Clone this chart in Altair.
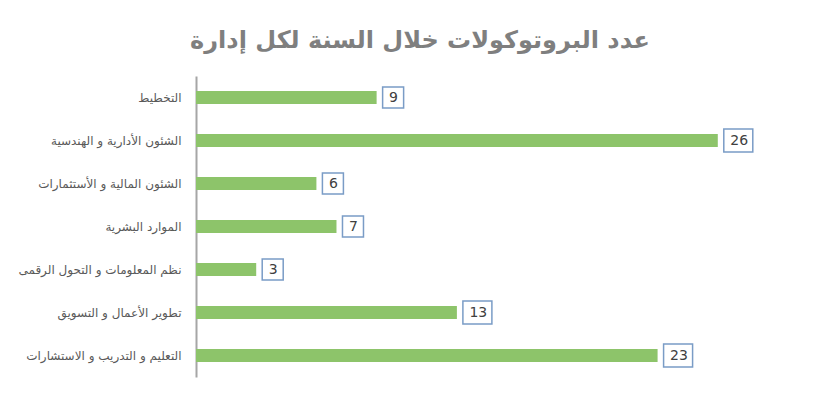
import altair as alt
import pandas as pd

departments = [
    "التخطيط",
    "الشئون الأدارية و الهندسية",
    "الشئون المالية و الأستثمارات",
    "الموارد البشرية",
    "نظم المعلومات و التحول الرقمى",
    "تطوير الأعمال و التسويق",
    "التعليم و التدريب و الاستشارات",
]
counts = [9, 26, 6, 7, 3, 13, 23]

df = pd.DataFrame({"dept": departments, "count": counts})

FONT = "DejaVu Sans"

y_enc = alt.Y("dept:N", sort=departments, title=None,
              axis=alt.Axis(labelFont=FONT, labelFontSize=12, labelColor="#595959",
                            labelPadding=15, ticks=False, domainColor="#a6a6a6",
                            domainWidth=2, labelLimit=200),
              scale=alt.Scale(paddingInner=0.0, paddingOuter=0.0))
x_enc = alt.X("count:Q", title=None, scale=alt.Scale(domain=[0, 29]), axis=None)

base = alt.Chart(df)

bars = base.mark_bar(size=13, color="#8dc46a").encode(x=x_enc, y=y_enc)

small = base.transform_filter("datum.count < 10").mark_bar(
    size=21, fill="white", stroke="#7a9cc6", strokeWidth=1.5, xOffset=6, x2Offset=27
).encode(x=x_enc, x2="count:Q", y=y_enc)

big = base.transform_filter("datum.count >= 10").mark_bar(
    size=23, fill="white", stroke="#7a9cc6", strokeWidth=1.5, xOffset=6, x2Offset=35
).encode(x=x_enc, x2="count:Q", y=y_enc)

labels = base.mark_text(align="left", baseline="middle", dx=12.5, font=FONT,
                        fontSize=14, color="#404040").encode(
    x=x_enc, y=y_enc, text="count:Q")

chart = alt.layer(bars, small, big, labels).properties(
    width=582,
    height=301,
    autosize=alt.AutoSizeParams(type="none"),
    padding={"left": 188, "top": 68, "right": 20, "bottom": 20},
    title=alt.TitleParams(
        "عدد البروتوكولات خلال السنة لكل إدارة",
        font=FONT, fontSize=24, fontWeight="bold", color="#7f7f7f",
        anchor="middle", dx=-67, offset=23,
    ),
).configure_view(stroke=None)

chart.save("out.html", embed_options={"renderer": "svg", "actions": False})
